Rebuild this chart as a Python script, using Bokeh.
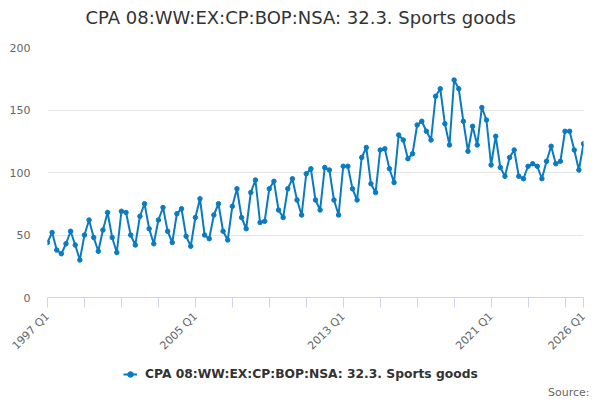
from math import pi

from bokeh.embed import file_html
from bokeh.layouts import column
from bokeh.models import FixedTicker, Legend, LegendItem, Range1d, Title
from bokeh.plotting import figure
from bokeh.resources import INLINE

# quarterly series, 1997 Q1 .. 2026 Q1
years = list(range(1997, 2026))
quarters = [f"{y} Q{q}" for y in years for q in (1, 2, 3, 4)] + ["2026 Q1"]

values = [
    44, 52, 38, 35,     # 1997
    43, 53, 42, 30,     # 1998
    50, 62, 48, 37,     # 1999
    54, 68, 48, 36,     # 2000
    69, 68, 50, 42,     # 2001
    65, 75, 55, 43,     # 2002
    62, 72, 53, 44,     # 2003
    67, 71, 49, 41,     # 2004
    64, 79, 50, 47,     # 2005
    66, 75, 53, 46,     # 2006
    73, 87, 64, 55,     # 2007
    84, 94, 60, 61,     # 2008
    87, 93, 70, 64,     # 2009
    87, 95, 78, 66,     # 2010
    99, 103, 78, 70,    # 2011
    104, 102, 78, 66,   # 2012
    105, 105, 87, 78,   # 2013
    112, 120, 91, 84,   # 2014
    118, 119, 103, 92,  # 2015
    130, 126, 111, 115,  # 2016
    138, 141, 133, 126,  # 2017
    161, 167, 139, 122,  # 2018
    174, 167, 141, 117,  # 2019
    137, 122, 152, 142,  # 2020
    106, 129, 104, 97,  # 2021
    112, 118, 97, 95,   # 2022
    105, 107, 105, 95,  # 2023
    109, 121, 107, 109,  # 2024
    133, 133, 118, 102,  # 2025
    123,                # 2026
]

series_name = "CPA 08:WW:EX:CP:BOP:NSA: 32.3. Sports goods"
labelled = ["1997 Q1", "2005 Q1", "2013 Q1", "2021 Q1", "2026 Q1"]
y_ticks = [0, 50, 100, 150, 200]

FONT = "DejaVu Sans"
BLUE = "#0b7bc1"

x = list(range(len(quarters)))

p = figure(width=592, height=360, output_backend="svg", toolbar_location=None,
           x_range=Range1d(0, len(quarters) - 1), y_range=Range1d(0, 200),
           min_border_left=47, min_border_right=9, min_border_top=47,
           min_border_bottom=63)
p.outline_line_color = None
p.title.text = ""

p.line(x, values, line_color=BLUE, line_width=2)
p.scatter(x, values, size=4.5, color=BLUE)

# x axis: ticks every 2 years, labels every 8 years and the last quarter
tick_pos = list(range(0, len(quarters), 8)) + [len(quarters) - 1]
p.xaxis.ticker = FixedTicker(ticks=tick_pos)
p.xaxis.major_label_overrides = {
    i: (quarters[i] if quarters[i] in labelled else "") for i in tick_pos
}
p.xaxis.major_label_orientation = pi / 4
p.xaxis.axis_line_color = "#ccd6eb"
p.xaxis.major_tick_line_color = "#ccd6eb"
p.xaxis.major_tick_out = 10
p.xaxis.major_tick_in = 0
p.xaxis.minor_tick_line_color = None
p.xaxis.major_label_text_font = FONT
p.xaxis.major_label_text_font_size = "11px"
p.xaxis.major_label_text_color = "#666666"
p.xaxis.major_label_standoff = 7
p.xgrid.grid_line_color = None

p.yaxis.ticker = FixedTicker(ticks=y_ticks)
p.yaxis.axis_line_color = None
p.yaxis.major_tick_line_color = None
p.yaxis.major_tick_out = 0
p.yaxis.minor_tick_line_color = None
p.yaxis.major_label_text_font = FONT
p.yaxis.major_label_text_font_size = "11px"
p.yaxis.major_label_text_color = "#666666"
p.yaxis.major_label_standoff = 17
p.ygrid.grid_line_color = "#e6e6e6"

# title: a thin spacer next to the frame, then the title text
p.add_layout(Title(text=" ", text_font_size="8px", standoff=5), "above")
p.add_layout(Title(text=series_name, align="left", offset=38, standoff=8,
                   text_font=FONT, text_font_size="18px",
                   text_font_style="normal", text_color="#333333"), "above")

# strip under the chart holding the legend and the source note;
# the series is drawn again there but kept out of view, only for the key
foot = figure(width=592, height=38, output_backend="svg", toolbar_location=None,
              x_axis_type=None, y_axis_type=None,
              x_range=Range1d(0, 1), y_range=Range1d(0, 1),
              min_border_left=0, min_border_right=0, min_border_top=0,
              min_border_bottom=0)
foot.outline_line_color = None
foot.title.text = ""
key_line = foot.line(x, values, line_color=BLUE, line_width=2)
key_dot = foot.scatter(x, values, size=4.5, color=BLUE)

legend = Legend(items=[LegendItem(label=series_name, renderers=[key_line, key_dot])],
                location=(76, 1), orientation="horizontal",
                label_text_font=FONT, label_text_font_size="12.3px",
                label_text_font_style="bold", label_text_color="#333333",
                glyph_width=14, glyph_height=16, label_height=16,
                label_standoff=8, padding=0, margin=0,
                border_line_color=None, background_fill_alpha=0)
foot.add_layout(legend, "center")

foot.add_layout(Title(text="Source:", align="right", offset=-6, standoff=0,
                      text_font=FONT, text_font_size="11px",
                      text_font_style="normal", text_color="#666666"), "below")

open("out.html", "w").write(file_html(column(p, foot), INLINE))
